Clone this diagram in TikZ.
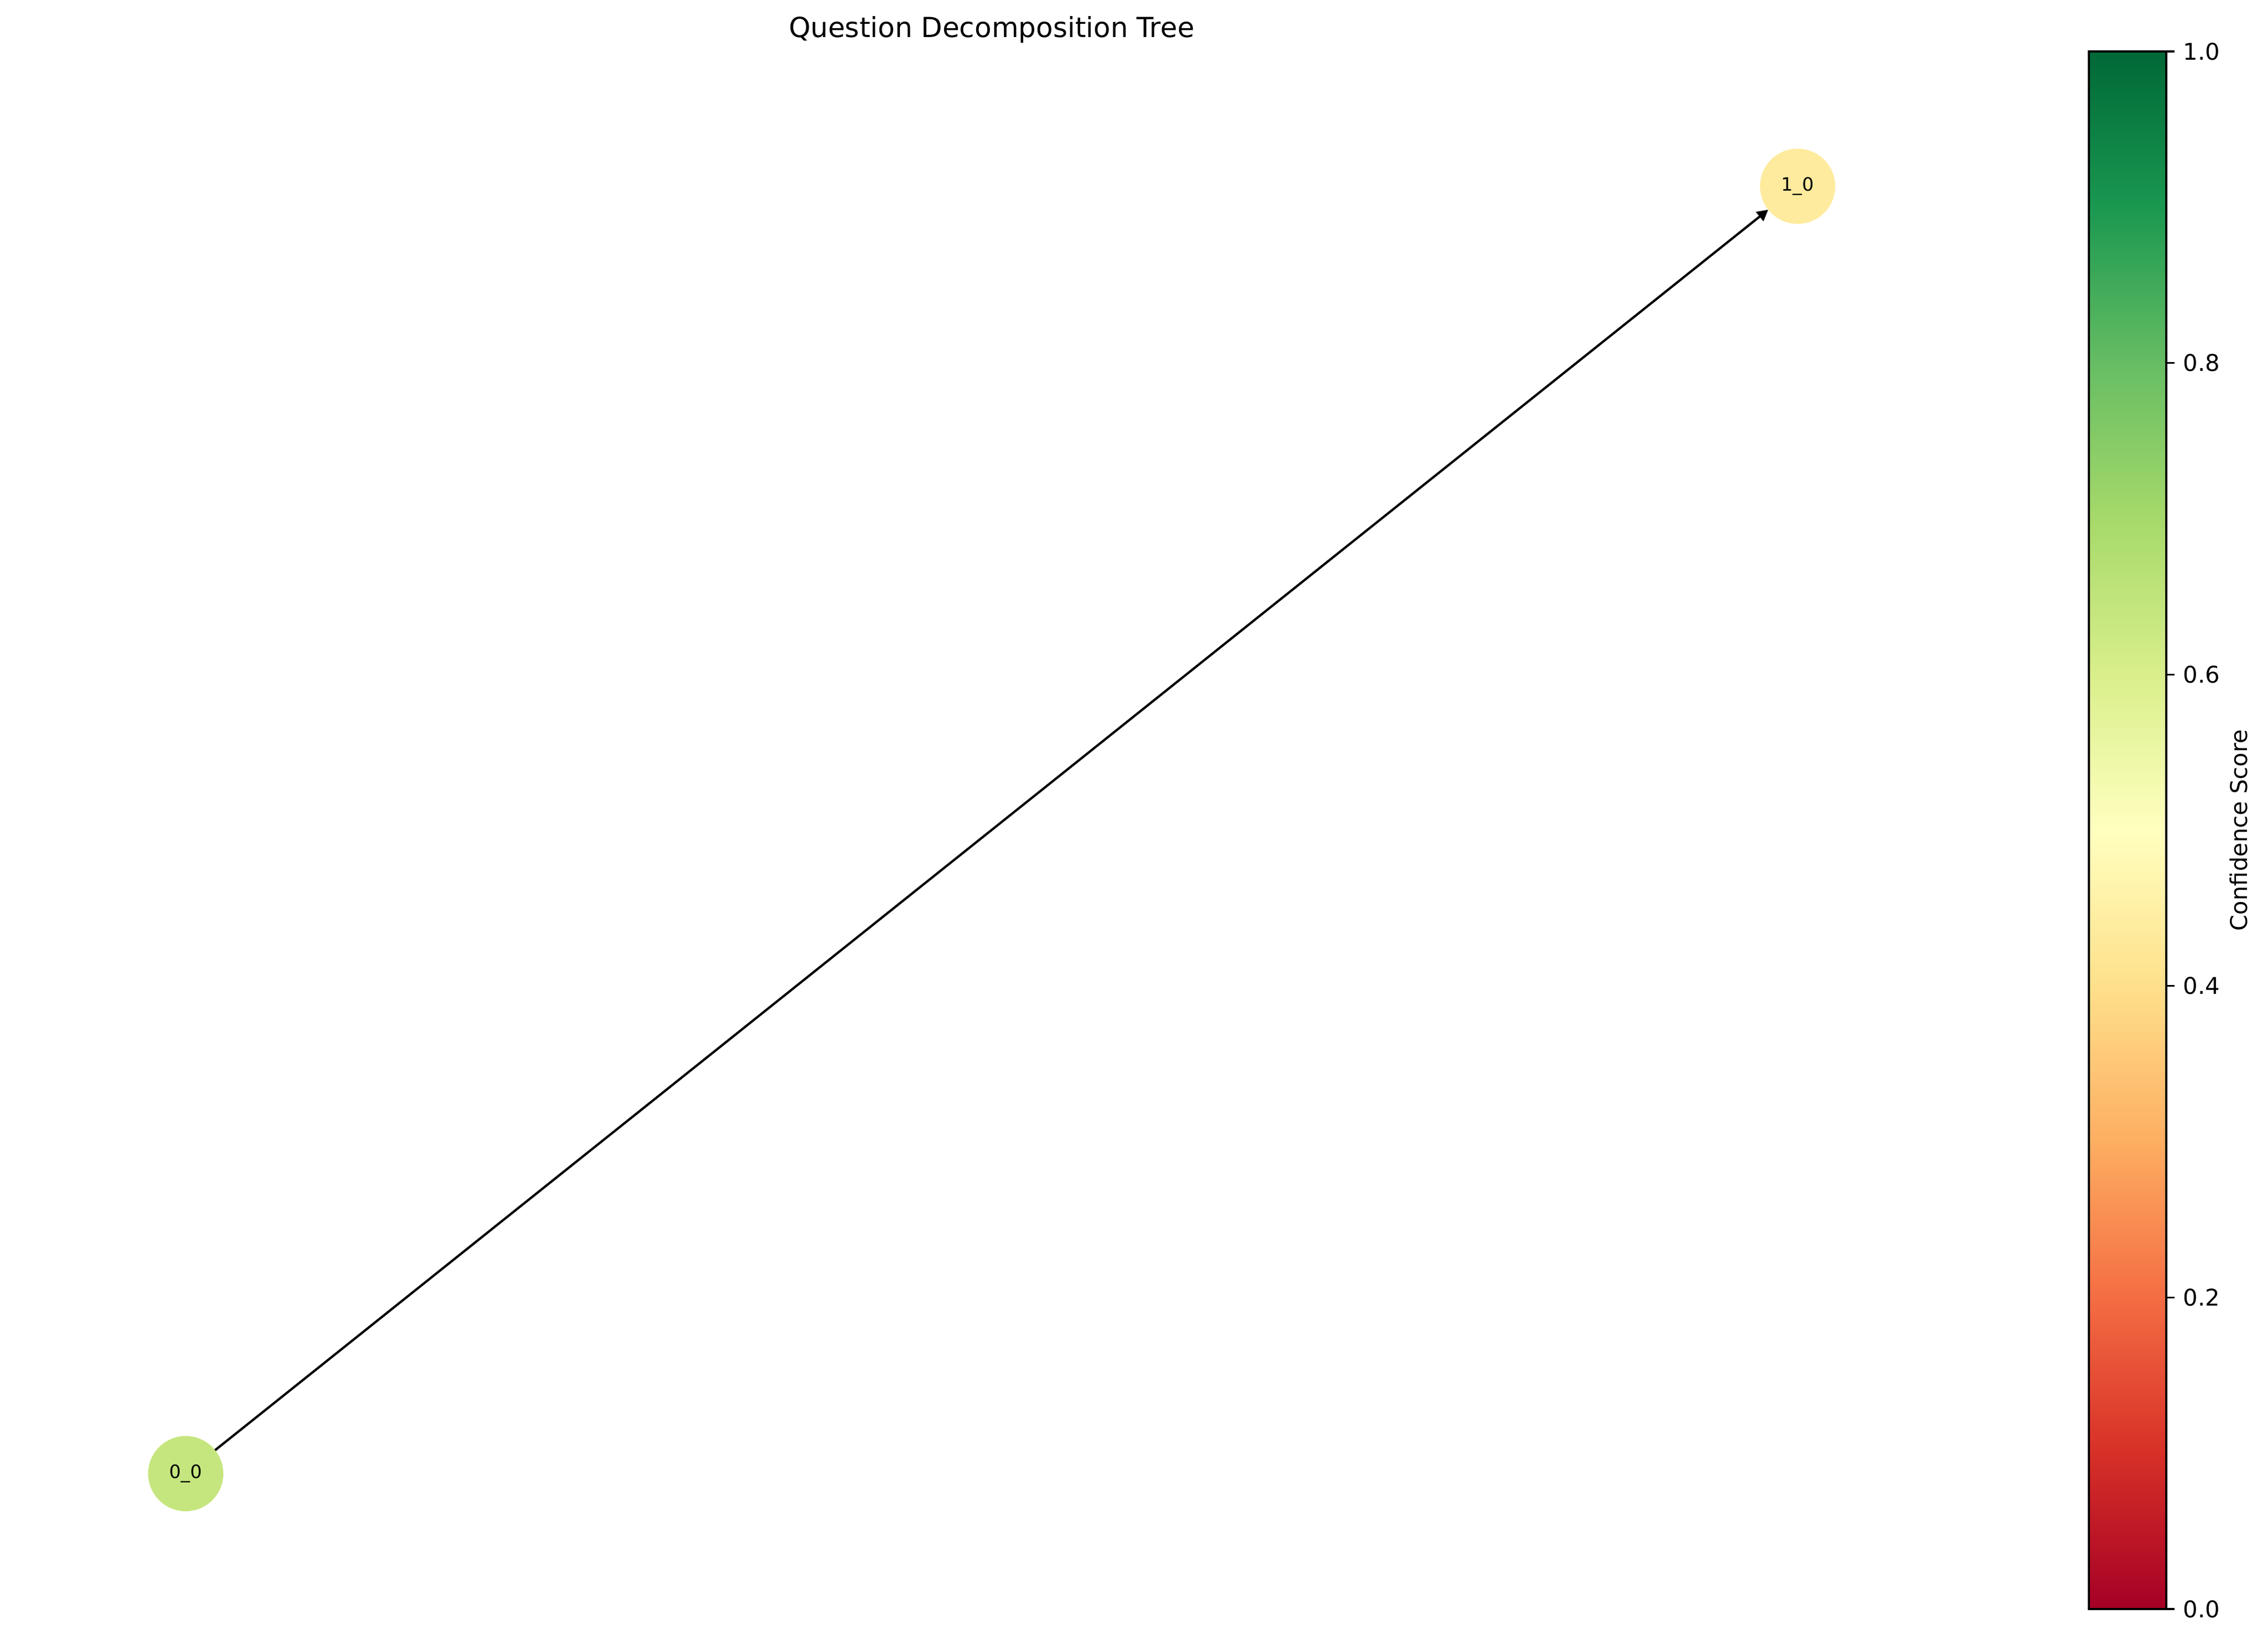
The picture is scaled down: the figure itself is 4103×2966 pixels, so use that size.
\documentclass[tikz,border=0pt]{standalone}
\usepackage{fontspec}
\setmainfont{DejaVu Sans}
\usetikzlibrary{arrows.meta}
\definecolor{c0}{HTML}{A50026}
\definecolor{c1}{HTML}{D73027}
\definecolor{c2}{HTML}{F46D43}
\definecolor{c3}{HTML}{FDAE61}
\definecolor{c4}{HTML}{FEE08B}
\definecolor{c5}{HTML}{FFFFBF}
\definecolor{c6}{HTML}{D9EF8B}
\definecolor{c7}{HTML}{A6D96A}
\definecolor{c8}{HTML}{66BD63}
\definecolor{c9}{HTML}{1A9850}
\definecolor{c10}{HTML}{006837}
\definecolor{nodeA}{HTML}{C5E67E}
\definecolor{nodeB}{HTML}{FEEB9D}
\tikzset{
  qnode/.style={circle, draw=none, inner sep=0pt, outer sep=0pt, minimum size=32.64pt, font=\fontsize{8}{9}\selectfont},
  edgearrow/.style={line width=1pt, -{Triangle[length=4.8pt,width=5pt]}},
  ticklabel/.style={anchor=west, inner sep=0pt, font=\fontsize{10}{12}\selectfont},
  cbframe/.style={line width=0.8pt, draw=black},
}
\begin{document}
\begin{tikzpicture}[x=0.24pt, y=0.24pt]
\useasboundingbox (0,0) rectangle (4103,2966);
% title
\node[anchor=base, inner sep=0pt, font=\fontsize{12}{14}\selectfont] (title) at (1794,2898) {Question Decomposition Tree};
% nodes
\node[qnode, fill=nodeA] (n00) at (336,300) {0\_0};
\node[qnode, fill=nodeB] (n10) at (3252,2629) {1\_0};
\draw[edgearrow] (n00) -- (n10);
% colorbar
\foreach \i/\a/\b in {0/c0/c1,1/c1/c2,2/c2/c3,3/c3/c4,4/c4/c5,5/c5/c6,6/c6/c7,7/c7/c8,8/c8/c9,9/c9/c10}{
  \shade[bottom color=\a, top color=\b] (3779,{55+\i*281.8-0.5}) rectangle (3919,{55+(\i+1)*281.8+0.5});
}
\draw[cbframe] (3779,55) rectangle (3919,2873);
\foreach \v/\y in {0.0/55,0.2/618.6,0.4/1182.2,0.6/1745.8,0.8/2309.4,1.0/2873}{
  \draw[line width=0.8pt] (3919,\y) -- (3934,\y);
  \node[ticklabel] at (3949,\y) {\v};
}
\node[rotate=90, anchor=base, inner sep=0pt, font=\fontsize{10}{12}\selectfont] (cblabel) at (4065,1464) {Confidence Score};
\end{tikzpicture}
\end{document}
